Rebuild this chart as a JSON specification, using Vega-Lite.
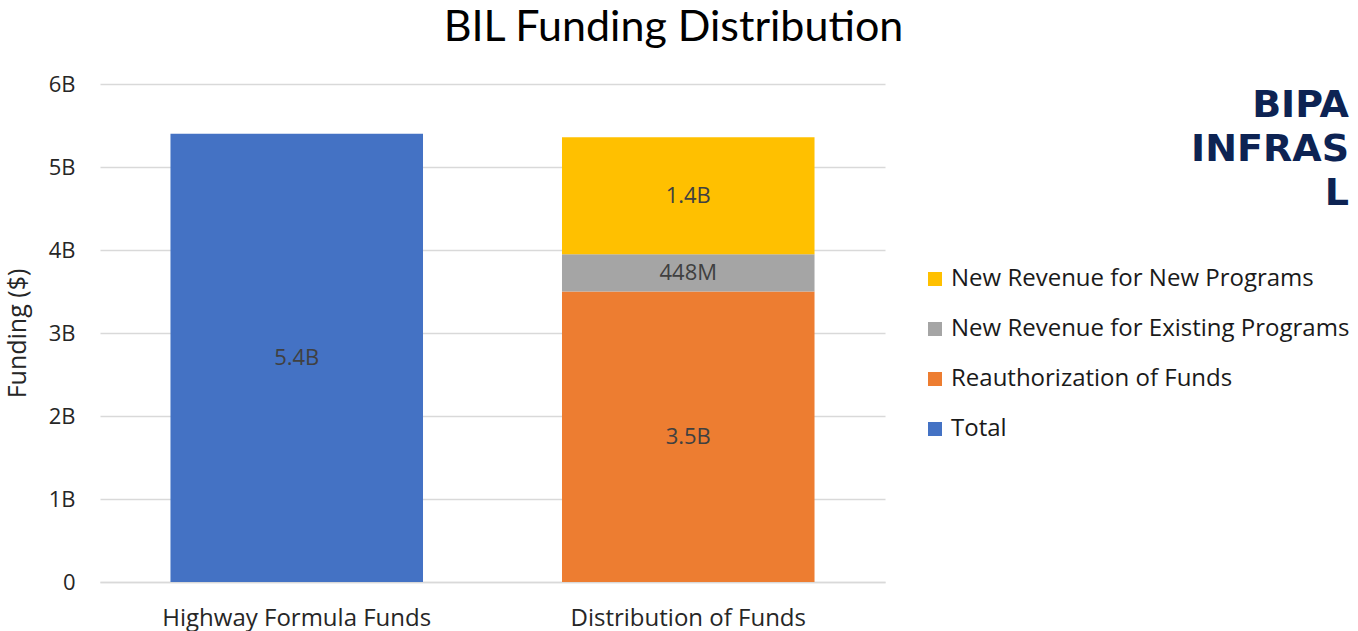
{
  "$schema": "https://vega.github.io/schema/vega-lite/v6.json",
  "width": 785,
  "height": 498,
  "autosize": {"type": "none"},
  "padding": {"left": 100, "top": 84, "right": 473, "bottom": 49},
  "background": "white",
  "config": {
    "font": "Open Sans",
    "view": {"stroke": null}
  },
  "title": {
    "text": "BIL Funding Distribution",
    "font": "Lato",
    "fontSize": 43,
    "fontWeight": "normal",
    "color": "#000000",
    "anchor": "middle",
    "baseline": "alphabetic",
    "dx": 181,
    "offset": -11
  },
  "data": {
    "values": [
      {"group": "Highway Formula Funds", "category": "Total", "value": 5.4, "label": "5.4B"},
      {"group": "Distribution of Funds", "category": "Reauthorization of Funds", "value": 3.5, "label": "3.5B"},
      {"group": "Distribution of Funds", "category": "New Revenue for Existing Programs", "value": 0.448, "label": "448M"},
      {"group": "Distribution of Funds", "category": "New Revenue for New Programs", "value": 1.41, "label": "1.4B"}
    ]
  },
  "transform": [
    {"calculate": "indexof(['Total', 'Reauthorization of Funds', 'New Revenue for Existing Programs', 'New Revenue for New Programs'], datum.category)", "as": "stackOrder"}
  ],
  "encoding": {
    "x": {
      "field": "group",
      "type": "nominal",
      "sort": ["Highway Formula Funds", "Distribution of Funds"],
      "scale": {"paddingInner": 0.355, "paddingOuter": 0.18},
      "axis": {
        "title": null,
        "labelAngle": 0,
        "labelFont": "Open Sans",
        "labelFontSize": 24,
        "labelColor": "#262626",
        "labelPadding": 24,
        "labelLimit": 500,
        "ticks": false,
        "tickSize": 0,
        "domain": true,
        "domainColor": "#D9D9D9",
        "domainWidth": 1.3
      }
    },
    "y": {
      "field": "value",
      "type": "quantitative",
      "stack": "zero",
      "scale": {"domain": [0, 6], "nice": false},
      "axis": {
        "title": "Funding ($)",
        "titleFont": "Open Sans",
        "titleFontSize": 25,
        "titleFontWeight": "normal",
        "titleColor": "#262626",
        "titlePadding": 18,
        "values": [0, 1, 2, 3, 4, 5, 6],
        "labelExpr": "datum.value == 0 ? '0' : datum.value + 'B'",
        "labelFont": "Open Sans",
        "labelFontSize": 22,
        "labelColor": "#262626",
        "labelPadding": 25,
        "ticks": false,
        "tickSize": 0,
        "domain": false,
        "grid": true,
        "gridColor": "#D9D9D9",
        "gridWidth": 1.3
      }
    },
    "order": {"field": "stackOrder", "type": "quantitative", "sort": "ascending"},
    "color": {
      "field": "category",
      "type": "nominal",
      "sort": ["New Revenue for New Programs", "New Revenue for Existing Programs", "Reauthorization of Funds", "Total"],
      "scale": {
        "domain": ["New Revenue for New Programs", "New Revenue for Existing Programs", "Reauthorization of Funds", "Total"],
        "range": ["#FFC000", "#A5A5A5", "#ED7D31", "#4472C4"]
      },
      "legend": {
        "orient": "none",
        "legendX": 823,
        "legendY": 3,
        "padding": 0,
        "title": ["BIPA", "INFRAS", "L"],
        "titleFont": "DejaVu Sans",
        "titleFontSize": 38,
        "titleFontWeight": "bold",
        "titleColor": "#0D2353",
        "titleAnchor": "end",
        "titleAlign": "right",
        "titleLineHeight": 44,
        "titlePadding": 54,
        "symbolType": "square",
        "symbolSize": 196,
        "symbolStrokeWidth": 0,
        "labelFont": "Open Sans",
        "labelFontSize": 24,
        "labelColor": "#1a1a1a",
        "labelOffset": 4,
        "rowPadding": 26,
        "labelLimit": 600
      }
    }
  },
  "layer": [
    {"mark": {"type": "bar"}},
    {
      "mark": {"type": "text", "font": "Open Sans", "fontSize": 22, "baseline": "middle"},
      "encoding": {
        "y": {"field": "value", "type": "quantitative", "stack": "zero", "bandPosition": 0.5},
        "text": {"field": "label", "type": "nominal"},
        "fill": {"value": "#404040"}
      }
    }
  ]
}
